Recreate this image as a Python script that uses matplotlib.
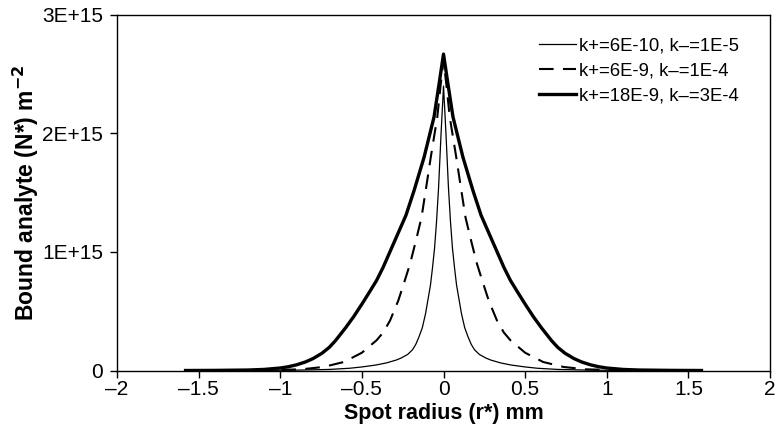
import matplotlib
matplotlib.use("Agg")
import matplotlib.pyplot as plt
import numpy as np
from matplotlib.ticker import FixedLocator, FuncFormatter

plt.rcParams['font.family'] = ['Liberation Sans', 'DejaVu Sans']
plt.rcParams['axes.unicode_minus'] = True

# Spot radius (mm) and bound analyte (in units of 1E15 m^-2)
thin_x = [-1.58, -1.2, -0.9, -0.7, -0.575, -0.5, -0.415, -0.35, -0.29, -0.26, -0.22, -0.19, -0.17,
          -0.15, -0.13, -0.11, -0.095, -0.08, -0.068, -0.055, -0.043, -0.03, -0.015, 0.0,
          0.015, 0.03, 0.043, 0.055, 0.068, 0.08, 0.095, 0.11, 0.13, 0.15, 0.17, 0.19, 0.22,
          0.26, 0.29, 0.35, 0.415, 0.5, 0.575, 0.7, 0.9, 1.2, 1.58]
thin_y = [0.0, 0.0, 0.003, 0.009, 0.019, 0.03, 0.046, 0.064, 0.088, 0.105, 0.135, 0.175, 0.22,
          0.285, 0.36, 0.48, 0.60, 0.72, 0.86, 1.03, 1.25, 1.55, 2.0, 2.40,
          2.0, 1.55, 1.25, 1.03, 0.86, 0.72, 0.60, 0.48, 0.36, 0.285, 0.22, 0.175, 0.135,
          0.105, 0.088, 0.064, 0.046, 0.03, 0.019, 0.009, 0.003, 0.0, 0.0]

dash_x = [-1.58, -1.1, -0.87, -0.735, -0.61, -0.50, -0.41, -0.37, -0.328, -0.277, -0.237, -0.205,
          -0.17, -0.135, -0.109, -0.078, -0.038, -0.02, 0.0, 0.02, 0.038, 0.078, 0.109, 0.135, 0.17,
          0.205, 0.237, 0.277, 0.328, 0.37, 0.41, 0.50, 0.61, 0.735, 0.87, 1.1, 1.58]
dash_y = [0.0, 0.002, 0.01, 0.03, 0.072, 0.15, 0.255, 0.32, 0.42, 0.59, 0.76, 0.90,
          1.09, 1.29, 1.52, 1.80, 2.14, 2.38, 2.62, 2.38, 2.14, 1.80, 1.52, 1.29, 1.09,
          0.90, 0.76, 0.59, 0.42, 0.32, 0.255, 0.15, 0.072, 0.03, 0.01, 0.002, 0.0]

thick_x = [-1.58, -1.4, -1.2, -1.1, -1.0, -0.95, -0.9, -0.846, -0.8, -0.745, -0.7, -0.663, -0.60,
           -0.55, -0.50, -0.45, -0.41, -0.37, -0.30, -0.23, -0.18, -0.119, -0.058, -0.027, 0.0,
           0.027, 0.058, 0.119, 0.18, 0.23, 0.30, 0.37, 0.41, 0.45, 0.50, 0.55, 0.60, 0.663,
           0.7, 0.745, 0.8, 0.846, 0.9, 0.95, 1.0, 1.1, 1.2, 1.4, 1.58]
thick_y = [0.0, 0.001, 0.004, 0.009, 0.021, 0.032, 0.048, 0.072, 0.10, 0.145, 0.195, 0.25, 0.36,
           0.455, 0.56, 0.67, 0.76, 0.87, 1.09, 1.31, 1.52, 1.80, 2.14, 2.42, 2.67,
           2.42, 2.14, 1.80, 1.52, 1.31, 1.09, 0.87, 0.76, 0.67, 0.56, 0.455, 0.36, 0.25,
           0.195, 0.145, 0.10, 0.072, 0.048, 0.032, 0.021, 0.009, 0.004, 0.001, 0.0]

series_labels = ["k+=6E-10, k\u2013=1E-5", "k+=6E-9, k\u2013=1E-4", "k+=18E-9, k\u2013=3E-4"]
x_ticks = [-2, -1.5, -1, -0.5, 0, 0.5, 1, 1.5, 2]
y_ticks = [0, 1e15, 2e15, 3e15]
y_tick_labels = ["0", "1E+15", "2E+15", "3E+15"]

fig = plt.figure(figsize=(7.82, 4.38), dpi=100)
ax = fig.add_axes([0.1496, 0.1541, 0.8351, 0.8117])

scale = 1e15
ax.plot(thin_x, np.array(thin_y) * scale, color='black', lw=0.9, label=series_labels[0],
        solid_joinstyle='round')
ax.plot(dash_x, np.array(dash_y) * scale, color='black', lw=1.5, linestyle=(0, (7, 4.5)),
        label=series_labels[1])
ax.plot(thick_x, np.array(thick_y) * scale, color='black', lw=2.4, label=series_labels[2],
        solid_joinstyle='round')

ax.set_xlim(-2, 2)
ax.set_ylim(0, 3e15)
ax.xaxis.set_major_locator(FixedLocator(x_ticks))
ax.xaxis.set_major_formatter(FuncFormatter(lambda v, p: ("%g" % v).replace("-", "\u2013")))
ax.yaxis.set_major_locator(FixedLocator(y_ticks))
ax.set_yticklabels(y_tick_labels)

ax.tick_params(direction='out', length=5, width=1, labelsize=15, color='black')
ax.tick_params(axis='x', pad=2)
ax.tick_params(axis='y', pad=5)
for s in ax.spines.values():
    s.set_linewidth(1.0)
    s.set_color('black')

ax.set_xlabel("Spot radius (r*) mm", fontsize=15.5, fontweight='bold', labelpad=3)
ax.set_ylabel("Bound analyte (N*) m$^{\\mathbf{-2}}$", fontsize=16.5, fontweight='bold', labelpad=1)

leg = ax.legend(loc='upper right', bbox_to_anchor=(0.973, 0.972), frameon=False, fontsize=13.3,
                handlelength=2.0, handletextpad=0.2, labelspacing=0.42, borderaxespad=0.3)

fig.savefig("out.png", dpi=100)
